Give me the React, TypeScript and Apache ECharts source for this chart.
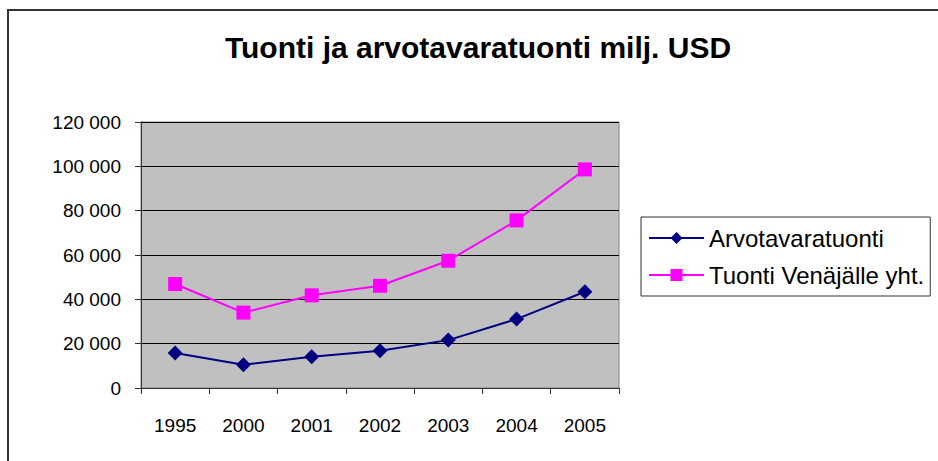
import React, { useEffect, useRef } from "react";
import * as echarts from "echarts";

const categories = ["1995", "2000", "2001", "2002", "2003", "2004", "2005"];
const arvotavaratuonti = [15800, 10500, 14100, 16800, 21600, 31100, 43400];
const tuontiVenajalle = [46900, 34000, 41800, 46100, 57400, 75600, 98600];
const seriesNames = ["Arvotavaratuonti", "Tuonti Venäjälle yht."];
const titleText = "Tuonti ja arvotavaratuonti milj. USD";

const FONT = "'Liberation Sans', Arial, sans-serif";

export default function App() {
  const ref = useRef<HTMLDivElement>(null);
  useEffect(() => {
    if (!ref.current) return;
    const chart = echarts.init(ref.current, null, { renderer: "svg" });
    chart.setOption({
      animation: false,
      backgroundColor: "#ffffff",
      textStyle: { fontFamily: FONT },
      title: {
        text: titleText,
        left: 473,
        textAlign: "center",
        top: 27,
        textStyle: { fontFamily: FONT, fontWeight: "bold", fontSize: 30, color: "#000" },
      },
      graphic: [
        {
          type: "rect",
          shape: { x: 8, y: 10, width: 1000, height: 1000 },
          style: { fill: "none", stroke: "#333", lineWidth: 2 },
          silent: true,
          z: -1,
        },
      ],
      legend: {
        orient: "vertical",
        left: 641,
        top: 217,
        borderColor: "#333",
        borderWidth: 1,
        padding: [9, 6, 9, 7],
        itemGap: 13,
        itemWidth: 55,
        itemHeight: 15,
        textStyle: { fontFamily: FONT, fontSize: 24, color: "#000" },
        data: seriesNames,
      },
      grid: {
        left: 141,
        top: 122,
        width: 478,
        height: 266,
        show: true,
        backgroundColor: "#C0C0C0",
        borderColor: "#808080",
        borderWidth: 1,
      },
      xAxis: {
        type: "category",
        data: categories,
        boundaryGap: true,
        axisLine: { lineStyle: { color: "#333", width: 1 } },
        axisTick: { show: true, length: 6, lineStyle: { color: "#333" } },
        axisLabel: { fontFamily: FONT, fontSize: 19, color: "#000", margin: 28 },
      },
      yAxis: {
        type: "value",
        min: 0,
        max: 120000,
        interval: 20000,
        axisLine: { show: true, lineStyle: { color: "#333", width: 1 } },
        axisTick: { show: true, length: 6, lineStyle: { color: "#333" } },
        splitLine: { show: true, lineStyle: { color: "#000", width: 1 } },
        axisLabel: {
          fontFamily: FONT,
          fontSize: 19,
          color: "#000",
          margin: 20,
          formatter: (v: number) => String(v).replace(/\B(?=(\d{3})+(?!\d))/g, " "),
        },
      },
      series: [
        {
          name: seriesNames[0],
          type: "line",
          data: arvotavaratuonti,
          symbol: "diamond",
          symbolSize: 15,
          lineStyle: { color: "#000080", width: 2 },
          itemStyle: { color: "#000080" },
        },
        {
          name: seriesNames[1],
          type: "line",
          data: tuontiVenajalle,
          symbol: "rect",
          symbolSize: 14,
          lineStyle: { color: "#FF00FF", width: 2 },
          itemStyle: { color: "#FF00FF" },
        },
      ],
    });
    return () => chart.dispose();
  }, []);
  return (
    <div
      ref={ref}
      style={{ position: "fixed", left: 0, top: 0, width: 938, height: 461 }}
    />
  );
}
